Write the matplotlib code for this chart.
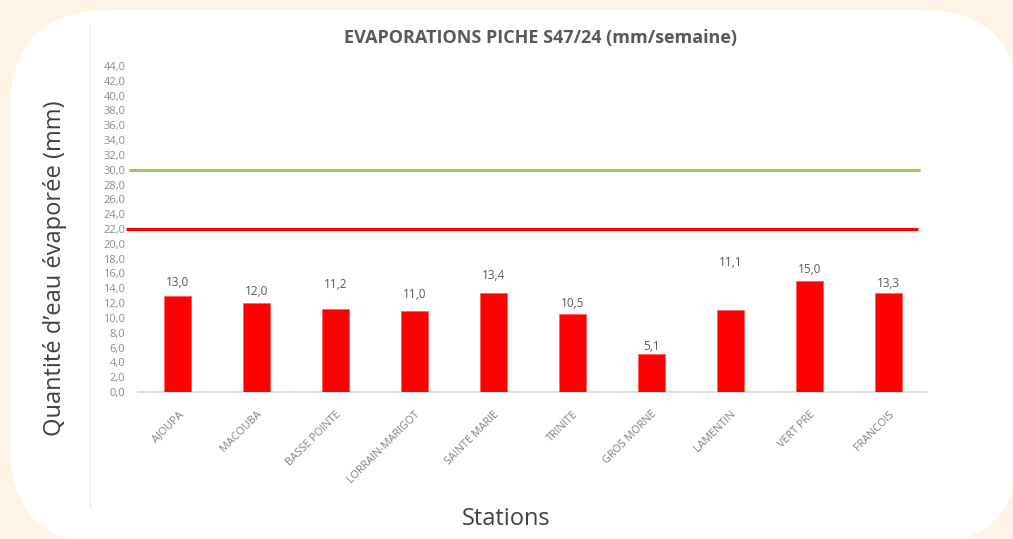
import numpy as np
import matplotlib.pyplot as plt
from matplotlib.patches import FancyBboxPatch

## data
stations = ['AJOUPA', 'MACOUBA', 'BASSE POINTE', 'LORRAIN-MARIGOT', 'SAINTE MARIE',
            'TRINITE', 'GROS MORNE', 'LAMENTIN', 'VERT PRE', 'FRANCOIS']
evap = [13.0, 12.0, 11.2, 11.0, 13.4, 10.5, 5.1, 11.1, 15.0, 13.3]
seuil_haut = 30.0
seuil_bas = 22.0
yticks = np.arange(0, 46, 2)

# offsets (pixels) of the value labels above each bar, as in the picture
label_off = [13, 12, 25, 16, 17, 11, 8, 47, 11, 10]

W, H = 1013, 539
plt.rcParams['font.family'] = ['Open Sans', 'DejaVu Sans']
fig = plt.figure(figsize=(W / 100, H / 100), dpi=100)
fig.patch.set_facecolor('#FEF4E6')

# background layer in pixel units: white rounded card + faint border line
bg = fig.add_axes([0, 0, 1, 1], zorder=-5)
bg.set_xlim(0, W)
bg.set_ylim(H, 0)
bg.axis('off')
bg.add_patch(FancyBboxPatch((10, 10), 1010, 535,
                            boxstyle='round,pad=0,rounding_size=100',
                            facecolor='white', edgecolor='none'))
bg.plot([90, 90], [25, 507], color='#EDEDED', lw=1)

ax = fig.add_axes([138 / W, 1 - 392 / H, 790 / W, 326 / H])
ax.set_facecolor('none')
x = np.arange(len(stations))
ax.bar(x, evap, width=0.33, color='#FF0000', edgecolor='#FF6060', linewidth=0.6, zorder=3)

ax.hlines(seuil_haut, -0.61, 9.4, color='#92D050', lw=2.2, clip_on=False, zorder=2)
ax.hlines(seuil_bas, -0.65, 9.37, color='#FF0000', lw=2.2, clip_on=False, zorder=2)

for xi, v, off in zip(x, evap, label_off):
    ax.annotate(f'{v:.1f}'.replace('.', ','), (xi, v), xytext=(0, off),
                textcoords='offset pixels', ha='center', va='center',
                fontsize=8.5, color='#595959')

ax.set_xlim(-0.5, 9.5)
ax.set_ylim(0, 44)
ax.set_yticks(yticks)
ax.set_yticklabels([f'{t:.1f}'.replace('.', ',') for t in yticks],
                   fontsize=8, color='#8C8C8C')
ax.tick_params(axis='y', length=0, pad=9)
ax.set_xticks(x)
ax.set_xticklabels(stations, rotation=45, ha='right', rotation_mode='anchor',
                   fontsize=7.8, color='#808080')
ax.tick_params(axis='x', length=0, pad=12)
for s in ['top', 'right', 'left']:
    ax.spines[s].set_visible(False)
ax.spines['bottom'].set_color('#D9D9D9')
ax.spines['bottom'].set_linewidth(1.2)

fig.text(540 / W, 1 - 38 / H, 'EVAPORATIONS PICHE S47/24 (mm/semaine)',
         ha='center', va='center', fontsize=13, fontweight='bold', color='#595959')
fig.text(55 / W, 1 - 268 / H, 'Quantité d\u2019eau évaporée (mm)', rotation=90,
         ha='center', va='center', fontsize=17, color='#404040')
fig.text(506 / W, 1 - 519 / H, 'Stations', ha='center', va='center',
         fontsize=17, color='#404040')

fig.savefig('out.png', dpi=100, facecolor=fig.get_facecolor())
